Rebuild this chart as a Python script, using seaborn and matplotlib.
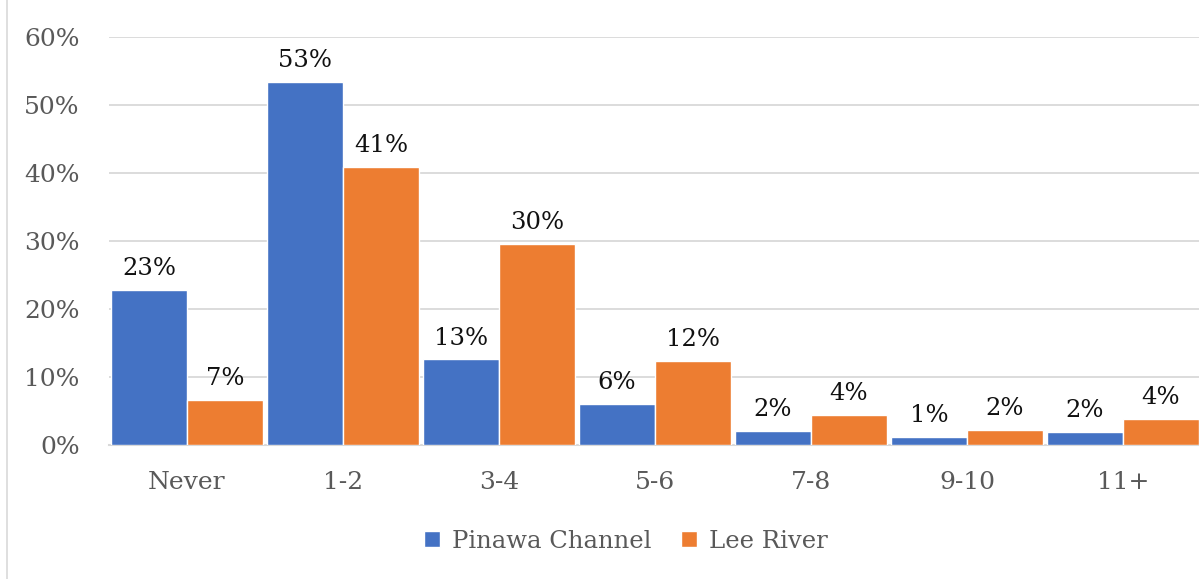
import matplotlib
matplotlib.use("Agg")
import matplotlib.pyplot as plt
from matplotlib.lines import Line2D
import pandas as pd
import seaborn as sns

categories = ["Never", "1-2", "3-4", "5-6", "7-8", "9-10", "11+"]
pinawa_channel = [0.228, 0.534, 0.126, 0.060, 0.021, 0.012, 0.019]
lee_river = [0.066, 0.409, 0.296, 0.124, 0.044, 0.022, 0.038]
series_names = ["Pinawa Channel", "Lee River"]
y_ticks = [0.0, 0.1, 0.2, 0.3, 0.4, 0.5, 0.6]

df = pd.DataFrame({
    "category": categories * 2,
    "series": [series_names[0]] * len(categories) + [series_names[1]] * len(categories),
    "share": pinawa_channel + lee_river,
})

sns.set_theme(style="white")
plt.rcParams["font.family"] = ["DejaVu Serif"]

fig = plt.figure(figsize=(11.99, 5.79), dpi=100)
ax = fig.add_axes([109 / 1199, 1 - 445 / 579, 1092 / 1199, (445 - 37) / 579])

palette = {series_names[0]: "#4472C4", series_names[1]: "#ED7D31"}
sns.barplot(data=df, x="category", y="share", hue="series", order=categories,
            hue_order=series_names, palette=palette, width=0.975, gap=0,
            saturation=1, ax=ax, zorder=3, legend=True)

for container in ax.containers:
    ax.bar_label(container, labels=[f"{v:.0%}" for v in container.datavalues],
                 padding=7, fontsize=17.5, color="#111111")

ax.set_ylim(0, 0.6)
ax.set_xlim(-0.5, len(categories) - 0.5)
ax.set_yticks(y_ticks)
ax.set_yticklabels([f"{t:.0%}" for t in y_ticks])
ax.yaxis.grid(True, color="#d9d9d9", linewidth=1.3, zorder=0)
ax.set_axisbelow(True)
ax.set_xlabel("")
ax.set_ylabel("")
ax.tick_params(axis="both", length=0, labelsize=18, labelcolor="#595959")
ax.tick_params(axis="x", pad=19)
ax.tick_params(axis="y", pad=21)
for side in ["top", "right", "left"]:
    ax.spines[side].set_visible(False)
ax.spines["bottom"].set_color("#d9d9d9")
ax.spines["bottom"].set_linewidth(1.5)

handles, labels = ax.get_legend_handles_labels()
ax.get_legend().remove()
fig.legend(handles, labels, loc="center", bbox_to_anchor=(626 / 1199, 1 - 541 / 579),
           ncol=2, frameon=False, fontsize=17.5, labelcolor="#595959",
           handlelength=0.65, handleheight=0.65, handletextpad=0.5, columnspacing=1.2)

fig.add_artist(Line2D([7 / 1199, 7 / 1199], [0, 1], transform=fig.transFigure,
                      color="#d9d9d9", linewidth=1.2))

fig.savefig("out.png", dpi=100)
